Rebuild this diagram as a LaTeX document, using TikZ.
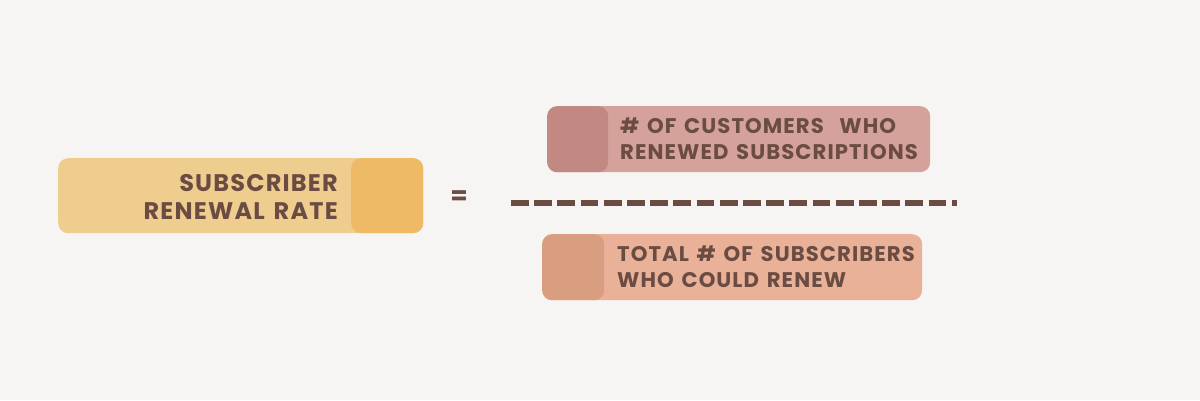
\documentclass[tikz,border=0pt]{standalone}
\usepackage{fontspec}
\setmainfont{Poppins}[LetterSpace=5,WordSpace=1.4]
\definecolor{bg}{HTML}{F7F5F3}
\definecolor{txt}{HTML}{6B4C43}
\definecolor{yL}{HTML}{EECD8E}
\definecolor{yD}{HTML}{EFBA65}
\definecolor{pL}{HTML}{D4A29B}
\definecolor{pD}{HTML}{C28882}
\definecolor{oL}{HTML}{E8B198}
\definecolor{oD}{HTML}{D99D80}
\tikzset{
  box/.style={rounded corners=10pt, inner sep=0pt, anchor=north west, draw=none},
  lbl/.style={font=\bfseries\fontsize{21.2}{26}\selectfont, text=txt, inner sep=0pt},
  biglbl/.style={lbl, font=\bfseries\fontsize{24}{28}\selectfont},
}
\begin{document}
\begin{tikzpicture}[x=1pt,y=-1pt]
\useasboundingbox[fill=bg] (0,0) rectangle (1200,400);
% left box
\node[box, fill=yL, minimum width=365pt, minimum height=75pt] (Lb) at (58,158) {};
\node[box, fill=yD, minimum width=72pt, minimum height=75pt] (Ld) at (351,158) {};
\node[biglbl, align=right, anchor=east] (Lt) at (338,197) {SUBSCRIBER\\RENEWAL RATE};
% equals
\node[lbl, font=\bfseries\fontsize{25}{25}\selectfont] (eq) at (459,198) {=};
% fraction line
\coordinate (fa) at (511,203);
\coordinate (fb) at (957,203);
\draw[txt, line width=6pt, dash pattern=on 17.7pt off 5.5pt] (fa) -- (fb);
% top box
\node[box, fill=pL, minimum width=383pt, minimum height=66pt] (Tb) at (547,106) {};
\node[box, fill=pD, minimum width=61pt, minimum height=66pt] (Td) at (547,106) {};
\node[lbl, align=left, anchor=west] (Tt) at (620,139) {\# OF CUSTOMERS\ \ WHO\\RENEWED SUBSCRIPTIONS};
% bottom box
\node[box, fill=oL, minimum width=380pt, minimum height=66pt] (Bb) at (542,234) {};
\node[box, fill=oD, minimum width=62pt, minimum height=66pt] (Bd) at (542,234) {};
\node[lbl, align=left, anchor=west] (Bt) at (617,267) {TOTAL \# OF SUBSCRIBERS\\WHO COULD RENEW};
\end{tikzpicture}
\end{document}
